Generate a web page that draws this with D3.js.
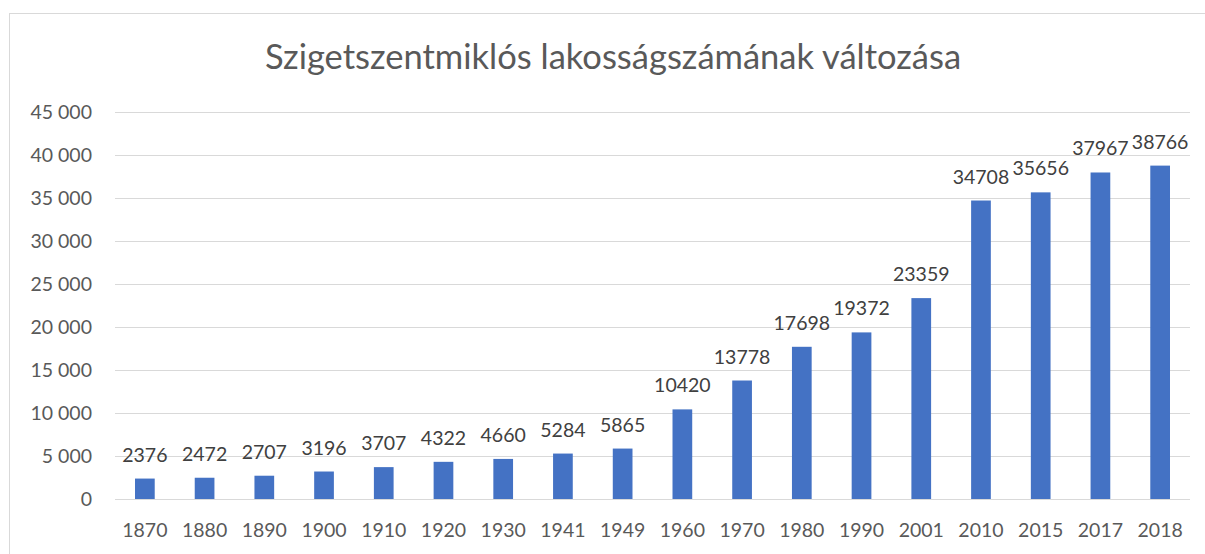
<!DOCTYPE html>
<html><head><meta charset="utf-8">
<script src="https://cdn.jsdelivr.net/npm/d3@7"></script>
<style>
html,body{margin:0;padding:0;background:#fff;}
svg{display:block;font-family:Lato,"Open Sans",sans-serif;}
</style></head>
<body>
<svg id="chart" width="1205" height="554"></svg>
<script>
const title = "Szigetszentmiklós lakosságszámának változása";
const years = ["1870","1880","1890","1900","1910","1920","1930","1941","1949","1960","1970","1980","1990","2001","2010","2015","2017","2018"];
const population = [2376,2472,2707,3196,3707,4322,4660,5284,5865,10420,13778,17698,19372,23359,34708,35656,37967,38766];
const yTicks = [0,5000,10000,15000,20000,25000,30000,35000,40000,45000];

const svg = d3.select("#chart");
const pL = 115, pR = 1190, pT = 112, pB = 499;

svg.append("rect").attr("x",9.5).attr("y",13.5).attr("width",1220).attr("height",600)
  .attr("fill","#fff").attr("stroke","#d9d9d9").attr("stroke-width",1);

svg.append("text").attr("x",613).attr("y",69).attr("text-anchor","middle")
  .attr("font-size",34.5).attr("fill","#595959").text(title);

const x = d3.scaleBand().domain(years).range([pL,pR]).paddingInner(0.67).paddingOuter(0.335);
const y = d3.scaleLinear().domain([0,45000]).range([pB,pT]);

const fmt = v => d3.format(",")(v).replace(/,/g," ");

const yAxis = svg.append("g").attr("transform",`translate(${pL},0)`)
  .call(d3.axisLeft(y).tickValues(yTicks).tickSize(-(pR-pL)).tickPadding(23).tickFormat(fmt));
yAxis.select(".domain").remove();
yAxis.selectAll(".tick line").attr("stroke","#d9d9d9").attr("stroke-width",1);
yAxis.selectAll(".tick text").attr("font-size",19.5).attr("fill","#595959").attr("font-family","Lato,'Open Sans',sans-serif");

const xAxis = svg.append("g").attr("transform",`translate(0,${pB})`)
  .call(d3.axisBottom(x).tickSize(0).tickPadding(24));
xAxis.select(".domain").remove();
xAxis.selectAll(".tick text").attr("font-size",19.5).attr("fill","#595959").attr("font-family","Lato,'Open Sans',sans-serif");

svg.append("g").selectAll("rect").data(years).join("rect")
  .attr("x",d=>x(d)).attr("width",x.bandwidth())
  .attr("y",(d,i)=>y(population[i])).attr("height",(d,i)=>pB-y(population[i]))
  .attr("fill","#4472C4");

svg.append("g").selectAll("text").data(years).join("text")
  .attr("x",d=>x(d)+x.bandwidth()/2).attr("y",(d,i)=>y(population[i])-17)
  .attr("text-anchor","middle").attr("font-size",19.5).attr("fill","#404040")
  .text((d,i)=>population[i]);
</script>
</body></html>
